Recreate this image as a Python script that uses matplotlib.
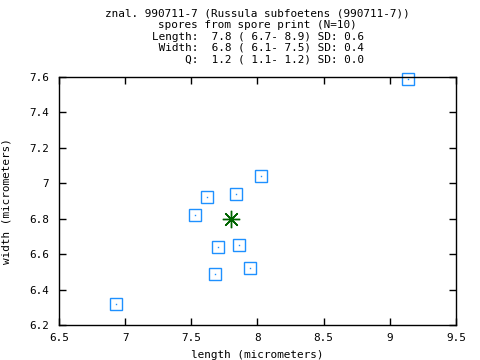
import matplotlib
matplotlib.use("Agg")
import matplotlib.pyplot as plt

# spore measurements (micrometers)
length = [9.14, 8.03, 7.62, 7.84, 7.53, 7.70, 7.86, 7.94, 7.68, 6.93]
width = [7.59, 7.04, 6.92, 6.94, 6.82, 6.64, 6.65, 6.52, 6.49, 6.32]
mean_len = [7.8]
mean_wid = [6.8]

xticks = [6.5, 7, 7.5, 8, 8.5, 9, 9.5]
xticklabels = ["6.5", "7", "7.5", "8", "8.5", "9", "9.5"]
yticks = [6.2, 6.4, 6.6, 6.8, 7.0, 7.2, 7.4, 7.6]
yticklabels = ["6.2", "6.4", "6.6", "6.8", "7", "7.2", "7.4", "7.6"]

title_lines = [
    "znal. 990711-7 (Russula subfoetens (990711-7))",
    "spores from spore print (N=10)",
    "Length:  7.8 ( 6.7- 8.9) SD: 0.6",
    " Width:  6.8 ( 6.1- 7.5) SD: 0.4",
    "     Q:  1.2 ( 1.1- 1.2) SD: 0.0",
]

plt.rcParams['font.family'] = ['DejaVu Sans Mono']
fs = 7.9

fig = plt.figure(figsize=(4.8, 3.6), dpi=100)
ax = fig.add_axes([59/480, 35/360, 397/480, 248/360])

blue = '#1e90ff'
ax.plot(length, width, 's', ms=8, mfc='none', mec=blue, mew=1.0, clip_on=False)
ax.plot(length, width, 's', ms=1, mfc=blue, mec=blue, mew=0, clip_on=False)
ax.plot(mean_len, mean_wid, marker=(8, 2, 0), ms=12.5, color='#006400', mew=1.0, ls='none')
ax.plot(mean_len, mean_wid, 'o', ms=2.5, color='#006400')

ax.set_xlim(6.5, 9.5)
ax.set_ylim(6.2, 7.6)
ax.set_xticks(xticks)
ax.set_xticklabels(xticklabels, fontsize=fs)
ax.set_yticks(yticks)
ax.set_yticklabels(yticklabels, fontsize=fs)
ax.tick_params(direction='in', length=5, width=1, top=True, right=True,
               labeltop=False, labelright=False)
ax.tick_params(axis='x', pad=6)
ax.tick_params(axis='y', pad=7)
for s in ax.spines.values():
    s.set_linewidth(1)

ax.set_xlabel("length (micrometers)", fontsize=fs, labelpad=5)
ax.set_ylabel("width (micrometers)", fontsize=fs, labelpad=13)

cx = (59 + 456) / 2 / 480
for i, line in enumerate(title_lines):
    fig.text(cx, 1 - (14 + 11.25 * i) / 360, line, ha='center', va='center', fontsize=fs)

fig.savefig("out.png", dpi=100)
